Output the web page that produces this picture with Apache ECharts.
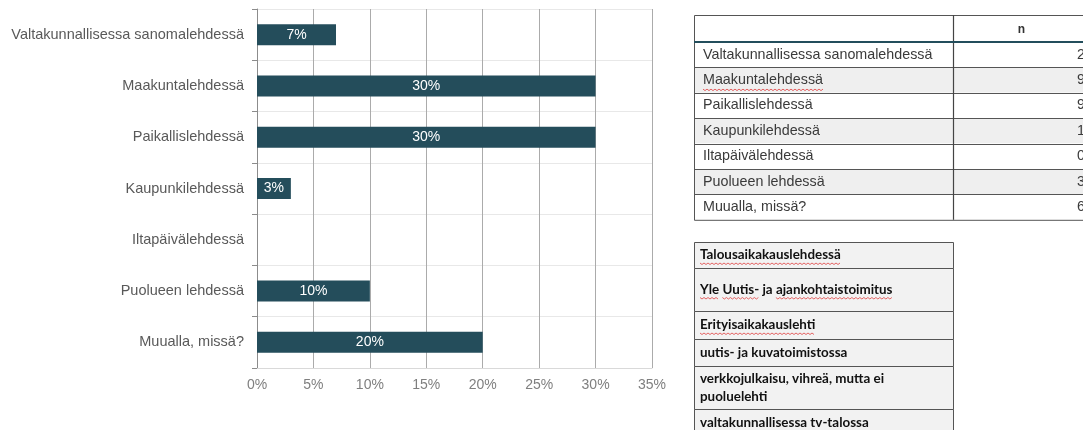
<!DOCTYPE html>
<html>
<head>
<meta charset="utf-8">
<script src="https://cdn.jsdelivr.net/npm/echarts@6/dist/echarts.min.js"></script>
<style>
    html, body { margin: 0; padding: 0; background: #fff; }
    #chart { width: 1083px; height: 430px; }
</style>
</head>
<body>
<div id="chart"></div>
<script>
// 数据
const categories = [
    'Valtakunnallisessa sanomalehdessä',
    'Maakuntalehdessä',
    'Paikallislehdessä',
    'Kaupunkilehdessä',
    'Iltapäivälehdessä',
    'Puolueen lehdessä',
    'Muualla, missä?'
];
const shares = [7, 30, 30, 3, 0, 10, 20];
const counts = [2, 9, 9, 1, 0, 3, 6];
const countHeader = 'n';
const otherAnswers = [
    ['Talousaikakauslehdessä'],
    ['Yle Uutis- ja ajankohtaistoimitus'],
    ['Erityisaikakauslehti'],
    ['uutis- ja kuvatoimistossa'],
    ['verkkojulkaisu, vihreä, mutta ei', 'puoluelehti'],
    ['valtakunnallisessa tv-talossa']
];
// 拼写检查标红的词
const flaggedWords = ['Maakuntalehdessä', 'Talousaikakauslehdessä', 'Yle', 'Uutis-', 'ajankohtaistoimitus',
    'Erityisaikakauslehti', 'valtakunnallisessa', 'tv-talossa'];

const barColor = '#244d5b';
const font1 = '14.3px "Liberation Sans", Arial, sans-serif';
const font2 = 'bold 13.4px Lato, "Liberation Sans", sans-serif';

const measureCtx = document.createElement('canvas').getContext('2d');
function textWidth(str, font) {
    measureCtx.font = font;
    return measureCtx.measureText(str).width;
}

// 红色波浪线
function squiggles(line, font, x, y) {
    const out = [];
    let cursor = x;
    line.split(' ').forEach(word => {
        const w = textWidth(word, font);
        if (flaggedWords.includes(word)) {
            const pts = [];
            for (let px = 0; px <= w; px += 2) {
                pts.push([cursor + px, y + ((px / 2) % 2 ? 1.5 : 0)]);
            }
            out.push({
                type: 'polyline',
                shape: { points: pts },
                style: { stroke: '#e04040', lineWidth: 0.8, fill: null },
                silent: true
            });
        }
        cursor += w + textWidth(' ', font);
    });
    return out;
}

function buildCountTable() {
    const els = [];
    const x0 = 694, x1 = 953, x2 = 1090;
    const top = 15, headH = 27, rowH = 25.4;
    const headBottom = top + headH;
    categories.forEach((name, i) => {
        const y = headBottom + i * rowH;
        els.push({
            type: 'rect',
            shape: { x: x0, y: y, width: x2 - x0, height: rowH },
            style: { fill: i % 2 ? '#efefef' : '#ffffff' },
            silent: true
        });
        els.push({
            type: 'text',
            style: { text: name, x: x0 + 9, y: y + rowH / 2, font: font1, fill: '#3a3a3a',
                textAlign: 'left', textVerticalAlign: 'middle' },
            silent: true
        });
        els.push({
            type: 'text',
            style: { text: String(counts[i]), x: x2 - 5, y: y + rowH / 2, font: font1, fill: '#3a3a3a',
                textAlign: 'right', textVerticalAlign: 'middle' },
            silent: true
        });
        els.push(...squiggles(name, font1, x0 + 9, y + rowH / 2 + 9));
        if (i > 0) {
            els.push({
                type: 'line',
                shape: { x1: x0, y1: Math.round(y) + 0.5, x2: x2, y2: Math.round(y) + 0.5 },
                style: { stroke: '#555', lineWidth: 1 },
                silent: true
            });
        }
    });
    const bottom = headBottom + categories.length * rowH;
    els.push({
        type: 'text',
        style: { text: countHeader, x: (x1 + x2) / 2, y: top + headH / 2 + 1, font: 'bold 12px "Liberation Sans", Arial',
            fill: '#333', textAlign: 'center', textVerticalAlign: 'middle' },
        silent: true
    });
    els.push({
        type: 'rect',
        shape: { x: x0 + 0.5, y: top + 0.5, width: x2 - x0, height: bottom - top },
        style: { fill: null, stroke: '#555', lineWidth: 1 },
        silent: true
    });
    els.push({
        type: 'line',
        shape: { x1: x1 + 0.5, y1: top, x2: x1 + 0.5, y2: bottom },
        style: { stroke: '#444', lineWidth: 1.2 },
        silent: true
    });
    els.push({
        type: 'line',
        shape: { x1: x0, y1: headBottom, x2: x2, y2: headBottom },
        style: { stroke: '#234e5c', lineWidth: 2 },
        silent: true
    });
    return els;
}

function buildOtherTable() {
    const els = [];
    const x0 = 694, x1 = 953;
    const rowHeights = [26, 43, 28, 27, 43, 28];
    const lineH = 18;
    let y = 242;
    otherAnswers.forEach((lines, i) => {
        const h = rowHeights[i];
        els.push({
            type: 'rect',
            shape: { x: x0 + 0.5, y: y + 0.5, width: x1 - x0, height: h },
            style: { fill: '#f2f2f2', stroke: '#555', lineWidth: 1 },
            silent: true
        });
        const start = y + h / 2 - (lines.length - 1) * lineH / 2;
        lines.forEach((line, k) => {
            const ty = start + k * lineH;
            els.push({
                type: 'text',
                style: { text: line, x: x0 + 6, y: ty, font: font2, fill: '#111',
                    textAlign: 'left', textVerticalAlign: 'middle' },
                silent: true
            });
            els.push(...squiggles(line, font2, x0 + 6, ty + 8));
        });
        y += h;
    });
    return els;
}

const myChart = echarts.init(document.getElementById('chart'));

const option = {
    animation: false,
    grid: {
        left: 257,
        right: 431,
        top: 9,
        bottom: 62,
        containLabel: false
    },
    xAxis: {
        type: 'value',
        min: 0,
        max: 35,
        interval: 5,
        axisLabel: {
            formatter: '{value}%',
            color: '#7f7f7f',
            fontSize: 14,
            fontFamily: '"Liberation Sans", Arial, sans-serif',
            margin: 10
        },
        axisLine: { show: true, lineStyle: { color: '#d9d9d9' } },
        axisTick: { show: false },
        splitLine: { show: true, lineStyle: { color: '#ababab', width: 1 } }
    },
    yAxis: {
        type: 'category',
        data: categories,
        inverse: true,
        axisLabel: {
            color: '#595959',
            fontSize: 14.5,
            fontFamily: '"Liberation Sans", Arial, sans-serif',
            margin: 13
        },
        axisLine: { show: true, lineStyle: { color: '#8c8c8c' } },
        axisTick: { show: true, length: 5, lineStyle: { color: '#8c8c8c' } },
        splitLine: { show: true, lineStyle: { color: '#e8e8e8' } }
    },
    series: [
        {
            type: 'bar',
            data: shares,
            barWidth: 21,
            itemStyle: { color: barColor },
            label: {
                show: true,
                position: 'inside',
                color: '#ffffff',
                fontSize: 14,
                fontFamily: '"Liberation Sans", Arial, sans-serif',
                formatter: p => p.value > 0 ? p.value + '%' : ''
            }
        }
    ],
    graphic: buildCountTable().concat(buildOtherTable())
};

myChart.setOption(option);

window.addEventListener('resize', function() {
    myChart.resize();
});
</script>
</body>
</html>
